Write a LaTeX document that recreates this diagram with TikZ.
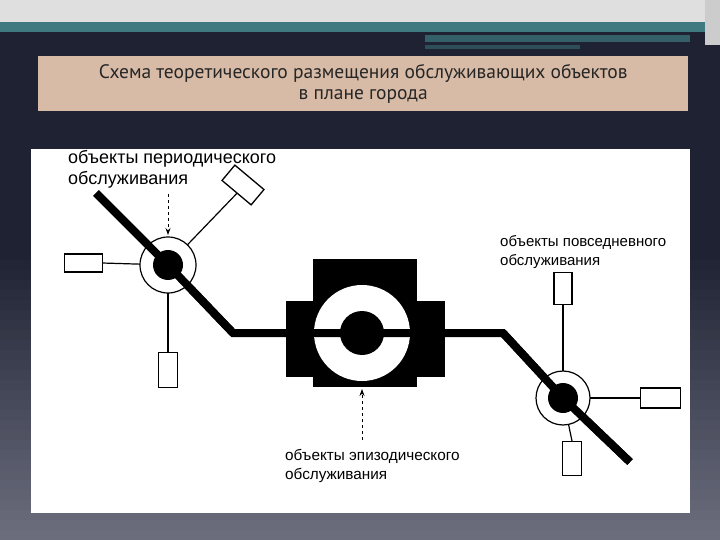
\documentclass[tikz,border=0pt]{standalone}
\usepackage{fontspec}
\setmainfont{Liberation Sans}
\newfontfamily\titlefont{PT Sans}
\usetikzlibrary{arrows.meta}
\definecolor{navy}{HTML}{1E2232}
\definecolor{botg}{HTML}{6E7080}
\definecolor{teal1}{HTML}{3F7A80}
\definecolor{titlebg}{HTML}{D8BBA6}
\begin{document}
\begin{tikzpicture}[x=1pt,y=-1pt,
  road/.style={line width=8pt,line join=miter},
  thin/.style={line width=1.2pt},
  obox/.style={draw,line width=1.3pt,fill=white,minimum width=#1,inner sep=0pt},
  lbl/.style={anchor=north west,align=left,inner sep=0pt},
  arr/.style={line width=0.8pt,dashed,-{Stealth[length=7pt,width=5pt]}}]
\useasboundingbox (0,0) rectangle (720,540);
\fill[navy] (0,0) rectangle (720,540);
\foreach \i in {0,...,29}{
  \pgfmathsetmacro{\p}{100*\i/29}
  \fill[botg!\p!navy] (0,{250+\i*10}) rectangle (720,{261+\i*10});
}
\fill[gray!25] (0,0) rectangle (720,22);
\fill[teal1] (0,22) rectangle (720,32);
\fill[teal1!70!navy] (425,35) rectangle (690,42);
\fill[teal1!50!navy] (425,45) rectangle (580,49);
\fill[gray!40] (705,0) rectangle (720,45);
\node[fill=titlebg,minimum width=650pt,minimum height=55pt,inner sep=0pt,anchor=north west] (title) at (38,56) {};
\node[font=\titlefont\fontsize{19.5}{21}\selectfont,text=black!85,align=center] (tt) at (title.center) {Схема теоретического размещения обслуживающих объектов\\в плане города};
\fill[white] (31,149) rectangle (690,513);
% central cross
\fill[black] (313,259) rectangle (417,387);
\fill[black] (286,301) rectangle (445,377);
\coordinate (L) at (168,265);
\coordinate (C) at (362,333);
\coordinate (R) at (563,398);
\fill[white] (C) circle (48);
% road
\draw[road] (96,193) -- (L) -- (233,333) -- (C) -- (503,333) -- (R) -- (630,462);
\fill[black] (C) circle (22);
% left hub
\draw[thin] (L) -- (243,187);
\draw[thin] (L) -- (102,263);
\draw[thin] (L) -- (168,352);
\filldraw[fill=white,line width=1.2pt] (L) circle (28);
\draw[road] (L) -- (233,333);
\draw[road] (96,193) -- (L);
\fill[black] (L) circle (15);
\node[obox=38pt,minimum height=20pt,rotate=-40] (b1) at (243,185) {};
\node[obox=38pt,minimum height=18pt,anchor=west] (b2) at (64,263) {};
\node[obox=19pt,minimum height=35pt,anchor=north] (b3) at (168,352) {};
% right hub
\draw[thin] (R) -- (563,305);
\draw[thin] (R) -- (640,398);
\draw[thin] (R) -- (572,441);
\filldraw[fill=white,line width=1.2pt] (R) circle (27);
\draw[road] (503,333) -- (R) -- (630,462);
\fill[black] (R) circle (15);
\node[obox=18pt,minimum height=32pt,anchor=south] (b4) at (563,305) {};
\node[obox=40pt,minimum height=20pt,anchor=west] (b5) at (640,398) {};
\node[obox=19pt,minimum height=34pt,anchor=north] (b6) at (572,441) {};
% labels
\node[lbl,font=\fontsize{18}{21}\selectfont] (t1) at (68,150) {объекты периодического\\обслуживания};
\node[lbl,font=\fontsize{15}{19}\selectfont] (t2) at (500,235) {объекты повседневного\\обслуживания};
\node[lbl,font=\fontsize{15.3}{19}\selectfont] (t3) at (285,449) {объекты эпизодического\\обслуживания};
\coordinate (a1) at (168,194);
\coordinate (a2) at (362,440);
\draw[arr] (a1) -- (168,235);
\draw[arr] (a2) -- (362,389);
\end{tikzpicture}
\end{document}
